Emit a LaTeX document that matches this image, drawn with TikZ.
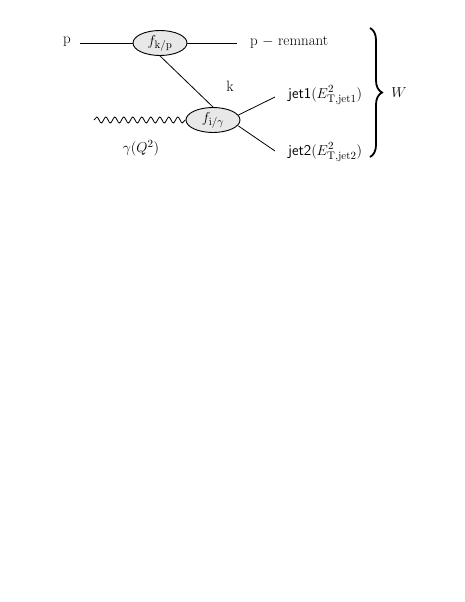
\documentclass[tikz,border=0pt]{standalone}
\usetikzlibrary{decorations.pathmorphing,decorations.pathreplacing,shapes.geometric}
\begin{document}
\begin{tikzpicture}[x=1pt,y=-1pt,
  blob/.style={ellipse,draw,fill=gray!18,line width=0.9pt,minimum width=54pt,minimum height=25pt,inner sep=0pt},
  lbl/.style={inner sep=0pt,font=\fontsize{15}{18}\selectfont},
  ln/.style={line width=0.8pt}]
\useasboundingbox (0,0) rectangle (465,602);
\node[blob] (fkp) at (160,43) {\fontsize{15}{18}\selectfont$f_{\mathrm{k/p}}$};
\node[blob] (fig) at (213,120) {\fontsize{15}{18}\selectfont$f_{\mathrm{i}/\gamma}$};
\node[lbl] (p) at (67,42) {p};
\coordinate (pin) at (80,43);
\coordinate (pout) at (237,43);
\node[lbl,anchor=west] (rem) at (250,42) {p $-$ remnant};
\node[lbl] (k) at (230,86) {k};
\coordinate (gin) at (94,120);
\node[lbl] (gam) at (141,148) {$\gamma(Q^2)$};
\coordinate (j1) at (275,97);
\coordinate (j2) at (275,151);
\node[lbl,anchor=west] (jet1) at (288,95) {\textsf{jet1}$(E^2_{\mathrm{T,jet1}})$};
\node[lbl,anchor=west] (jet2) at (288,152) {\textsf{jet2}$(E^2_{\mathrm{T,jet2}})$};
\coordinate (bt) at (370,28);
\coordinate (bb) at (370,157);
\node[lbl] (W) at (399,93) {$W$};
\draw[ln] (pin) -- (fkp.west);
\draw[ln] (fkp.east) -- (pout);
\draw[ln] (fkp.south) -- (fig.north);
\draw[ln,decorate,decoration={snake,segment length=9pt,amplitude=3pt}] (gin) -- (fig.west);
\draw[ln] (fig.east) ++(-2,-5) -- (j1);
\draw[ln] (fig.east) ++(-2,6) -- (j2);
\draw[line width=1.8pt,decorate,decoration={brace,amplitude=12pt}] (bt) -- (bb);
\end{tikzpicture}
\end{document}
